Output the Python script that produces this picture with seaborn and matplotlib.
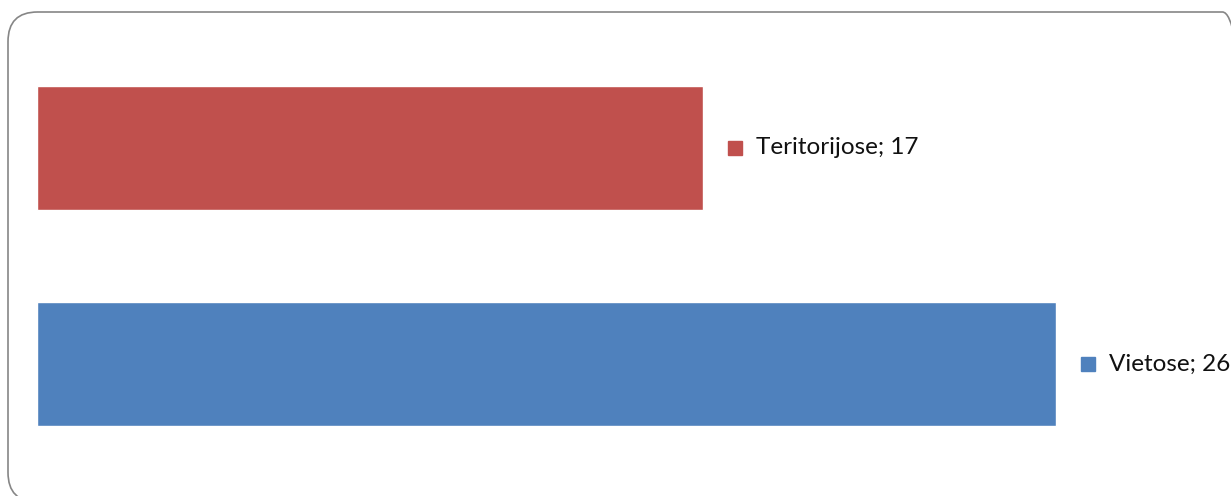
import matplotlib
matplotlib.use("Agg")
import matplotlib.pyplot as plt
import seaborn as sns
import pandas as pd
from matplotlib.patches import FancyBboxPatch
from matplotlib.transforms import offset_copy

categories = ["Teritorijose", "Vietose"]
values = [17, 26]
colors = ["#C0504D", "#4F81BD"]

sns.set_theme(style="white")
plt.rcParams['font.family'] = ['Lato', 'DejaVu Sans']

W, H = 1231, 496
fig = plt.figure(figsize=(W / 100, H / 100), dpi=100)

# rounded frame
frame = FancyBboxPatch((8 / W, (H - 502) / H), (1252 - 8) / W, (502 - 12) / H,
                       boxstyle="round,pad=0,rounding_size=0.024",
                       transform=fig.transFigure, facecolor="none",
                       edgecolor="#868686", linewidth=1.2, clip_on=False,
                       mutation_aspect=W / H, zorder=0)
fig.patches.append(frame)

left, right = 37, 1225
top, bottom = 40, 472
ax = fig.add_axes([left / W, 1 - bottom / H, (right - left) / W, (bottom - top) / H])
ax.set_facecolor("none")
ax.set_zorder(2)

df = pd.DataFrame({"cat": categories, "val": values})
sns.barplot(data=df, x="val", y="cat", hue="cat", palette=colors,
            width=124 / 216, ax=ax, legend=False, saturation=1, orient="h")

px_per_unit = 1019 / 26
ax.set_xlim(0, (right - left) / px_per_unit)
ax.set_ylim(1.5, -0.5)
ax.axis("off")

for i, (c, v, col) in enumerate(zip(categories, values, colors)):
    tr = offset_copy(ax.transData, fig=fig, x=32, y=0, units="dots")
    ax.plot([v], [i], marker="s", markersize=10.5, color=col, transform=tr,
            clip_on=False, linestyle="none")
    tr2 = offset_copy(ax.transData, fig=fig, x=53, y=0, units="dots")
    ax.text(v, i, f"{c}; {v}", transform=tr2, va="center", ha="left",
            fontsize=17.5, color="#111111", clip_on=False)

fig.savefig("out.png", dpi=100)
